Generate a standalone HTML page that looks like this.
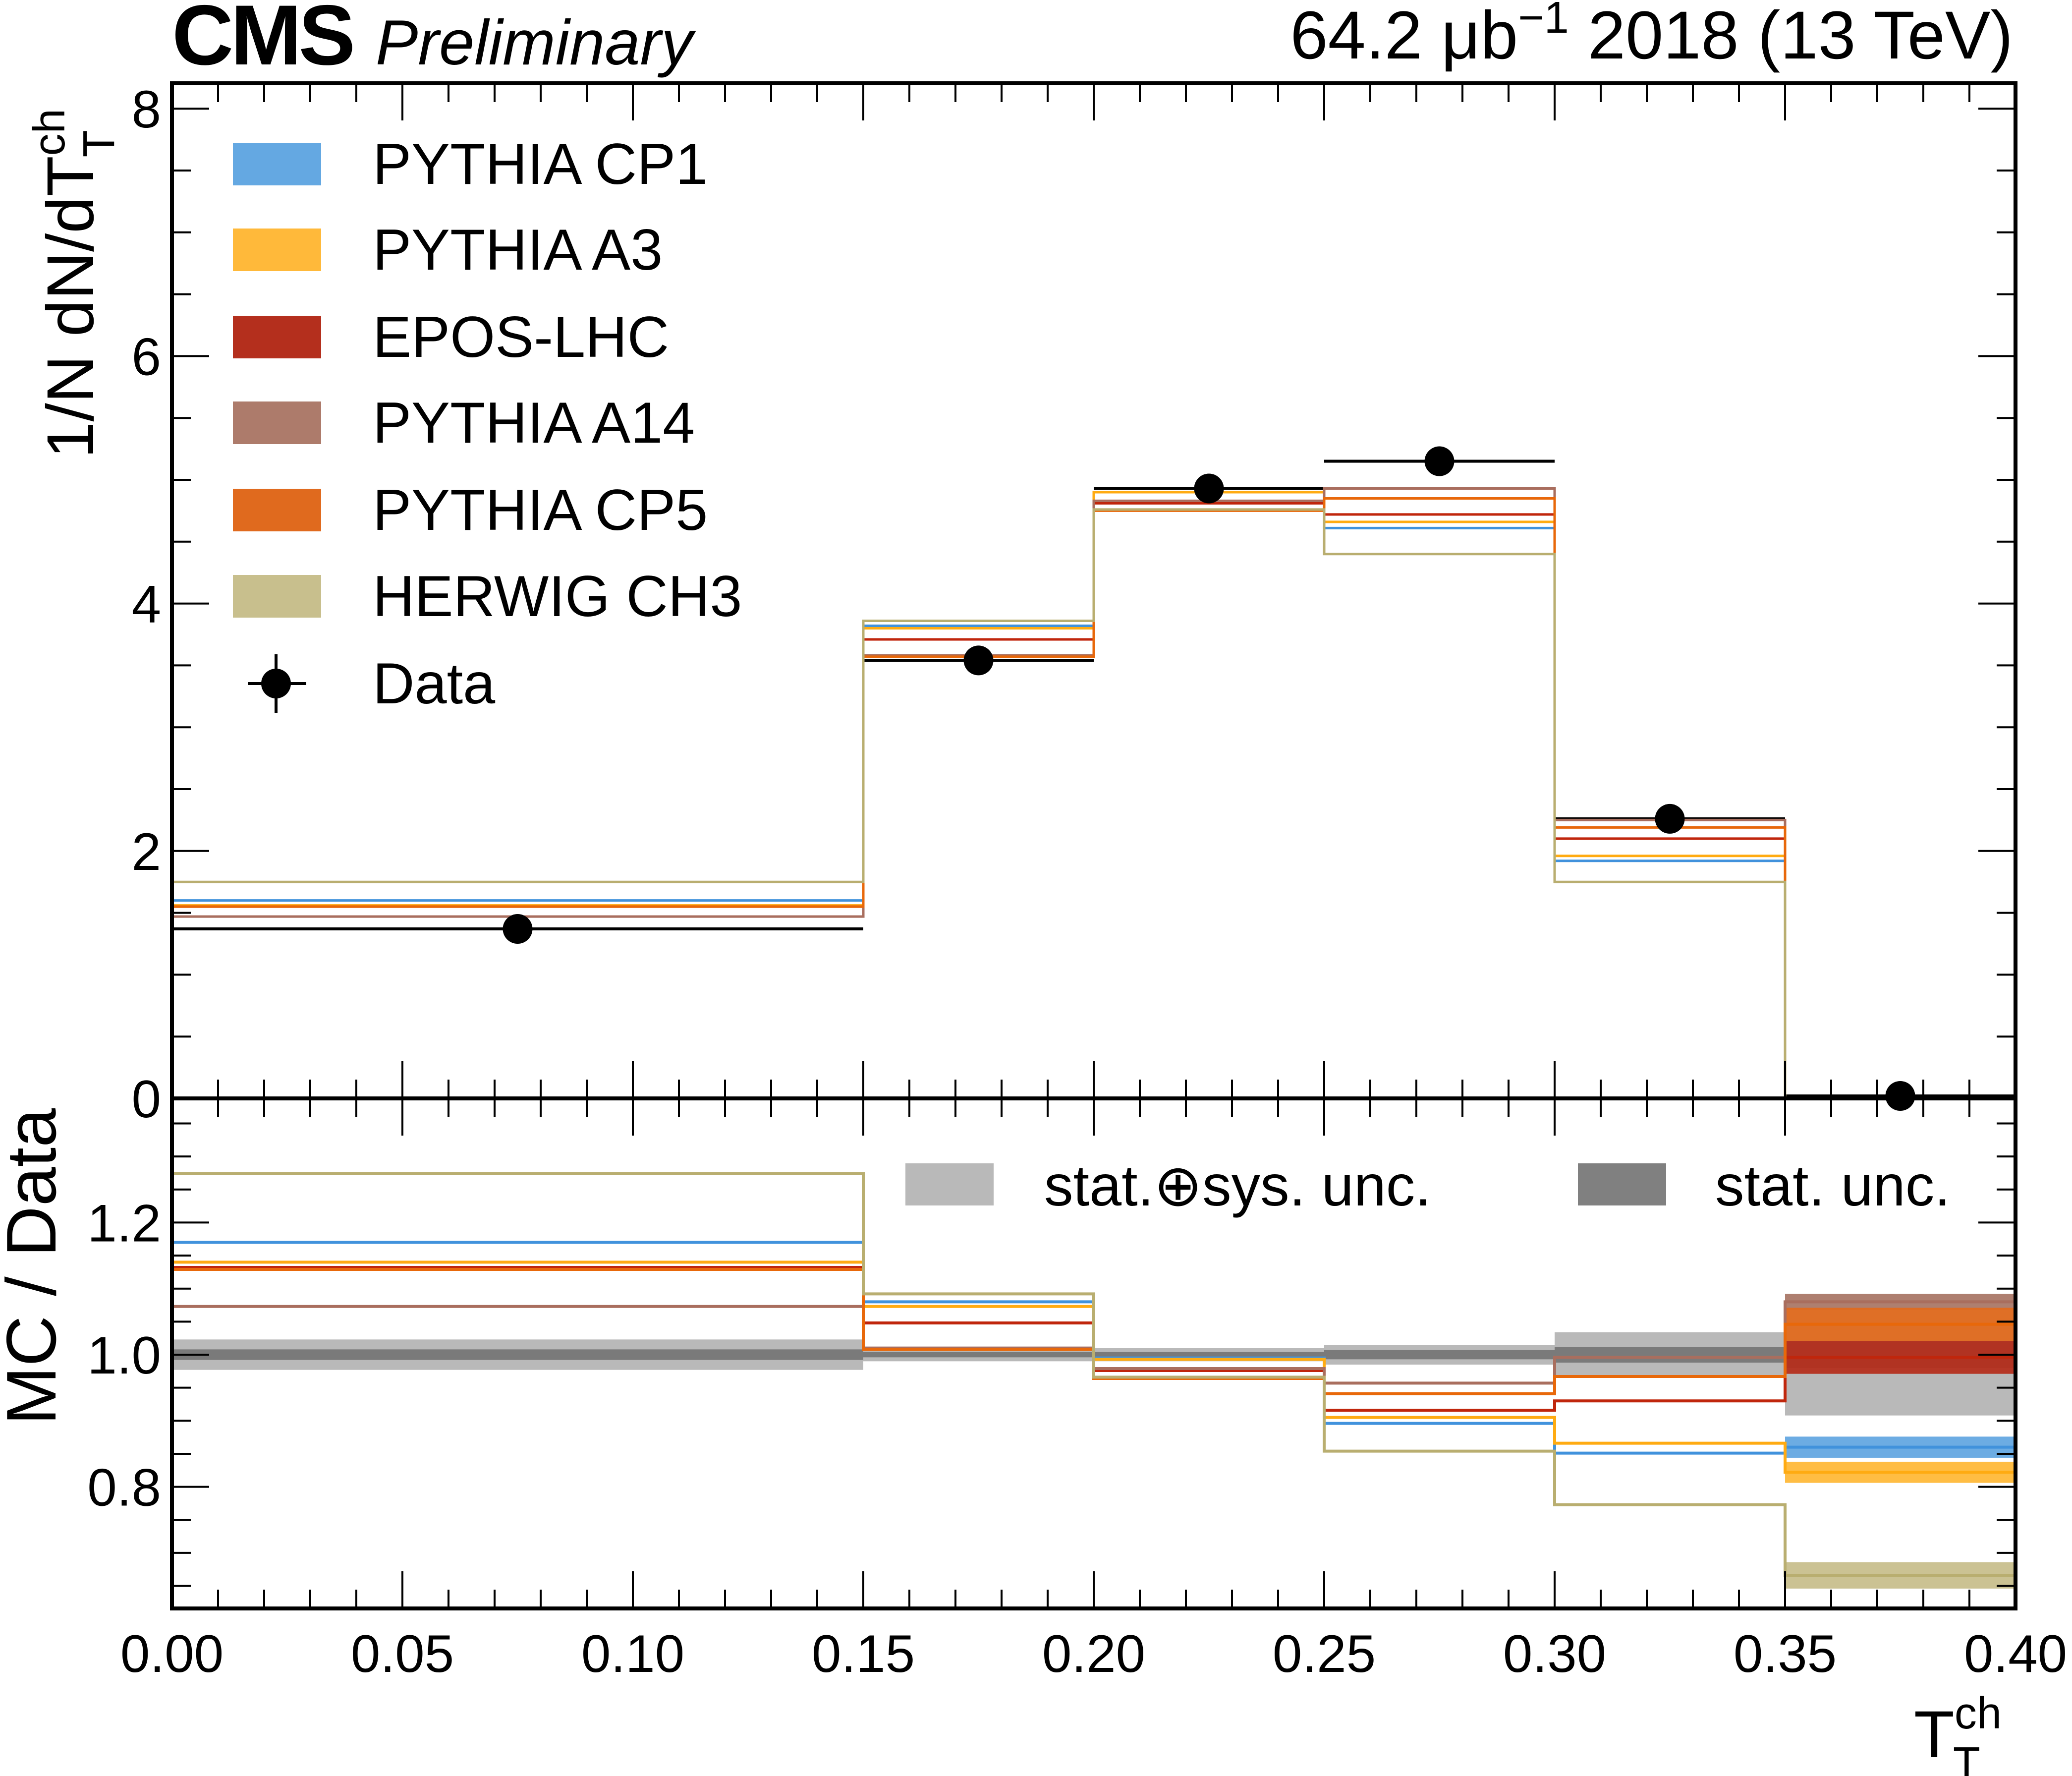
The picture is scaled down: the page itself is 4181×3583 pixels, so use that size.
<!DOCTYPE html>
<html><head><meta charset="utf-8"><style>
html,body{margin:0;padding:0;background:#fff}
svg{display:block}
text{font-family:"Liberation Sans",sans-serif;fill:#000}
</style></head><body>
<svg id="c" width="4181" height="3583" viewBox="0 0 4181 3583" xmlns="http://www.w3.org/2000/svg">
<g id="bands"></g>
<g id="lines"></g>
<g id="axes"></g>
<g id="labels">
<text x="347" y="130" font-size="172" font-weight="bold" letter-spacing="-6">CMS</text>
<text x="758" y="130" font-size="128" font-style="italic">Preliminary</text>
<text x="4062" y="118" font-size="137" text-anchor="end">64.2 μb<tspan font-size="90" dy="-52">−1</tspan><tspan dy="52"> 2018 (13 TeV)</tspan></text>
<text transform="translate(188,925) rotate(-90)" font-size="134">1/N dN/dT<tspan font-size="90" dy="-58">ch</tspan><tspan font-size="90" dx="-98" dy="100">T</tspan></text>
<text transform="translate(112,2875) rotate(-90)" font-size="142">MC / Data</text>
<text x="3862" y="3545" font-size="134">T<tspan font-size="90" dy="-58">ch</tspan><tspan font-size="90" dx="-98" dy="100">T</tspan></text>
</g>
<g id="legend"></g>
</svg>
<script>
// data
const binEdges=[0,0.15,0.2,0.25,0.3,0.35,0.4];
const dataVals=[1.37,3.54,4.93,5.15,2.26,0.02];
const seriesNames=["PYTHIA CP1","PYTHIA A3","EPOS-LHC","PYTHIA A14","PYTHIA CP5","HERWIG CH3"];
const cp1=[1.60,3.82,4.90,4.61,1.92,0];
const a3=[1.56,3.80,4.90,4.66,1.96,0];
const epos=[1.55,3.71,4.81,4.72,2.10,0];
const a14=[1.47,3.58,4.83,4.93,2.25,0];
const cp5=[1.55,3.57,4.75,4.85,2.19,0];
const ch3=[1.75,3.86,4.76,4.40,1.75,0];
const rCp1=[1.170,1.080,0.995,0.896,0.851,0.86];
const rA3=[1.140,1.073,0.993,0.905,0.866,0.822];
const rEpos=[1.132,1.048,0.976,0.916,0.930,0.996];
const rA14=[1.073,1.010,0.979,0.957,0.996,1.08];
const rCp5=[1.129,1.008,0.964,0.941,0.967,1.046];
const rCh3=[1.274,1.092,0.966,0.854,0.773,0.666];
const lastErr=[0.016,0.016,0.025,0.012,0.025,0.02];
const sysUnc=[0.023,0.01,0.01,0.015,0.034,0.092];
const statUnc=[0.008,0.004,0.004,0.007,0.012,0.02];
const xTicks=["0.00","0.05","0.10","0.15","0.20","0.25","0.30","0.35","0.40"];
const yTicksUp=[0,2,4,6,8];
const yTicksLo=["0.8","1.0","1.2"];

const NS="http://www.w3.org/2000/svg";
const L=347,R=4067,T=168,M=2216,B=3245;
const X=v=>L+(v-0)/0.4*(R-L);
const YU=v=>2216-v*249.6;
const YL=v=>2733-(v-1)*1333;
function mk(p,tag,at){const e=document.createElementNS(NS,tag);for(const k in at)e.setAttribute(k,at[k]);p.appendChild(e);return e;}
const gB=document.getElementById('bands'),gL=document.getElementById('lines'),gA=document.getElementById('axes'),gG=document.getElementById('legend'),gT=document.getElementById('labels');
const lineCols=["#4192dc","#ffab12","#c0260c","#a96e5e","#e8680a","#b9ae70"];
const bandCols=["#64a8e2","#ffb93a","#b42f1d","#ad7b6b","#e06a1e","#c8bf8d"];
const upper=[cp1,a3,epos,a14,cp5,ch3];
const ratios=[rCp1,rA3,rEpos,rA14,rCp5,rCh3];

for(let i=0;i<6;i++){
  let r=mk(gB,'rect',{x:X(binEdges[i]),y:YL(1+sysUnc[i]),width:X(binEdges[i+1])-X(binEdges[i]),height:YL(1-sysUnc[i])-YL(1+sysUnc[i]),fill:"#b9b9b9"});
  
  
  let s=mk(gB,'rect',{x:X(binEdges[i]),y:YL(1+statUnc[i]),width:X(binEdges[i+1])-X(binEdges[i]),height:YL(1-statUnc[i])-YL(1+statUnc[i]),fill:"#7a7a7a"});
  
  
}
[3,4,2,0,1,5].forEach(k=>{
  const v=ratios[k][5],e=lastErr[k];
  let r=mk(gB,'rect',{x:X(0.35),y:YL(v+e),width:X(0.4)-X(0.35),height:YL(v-e)-YL(v+e),fill:bandCols[k],opacity:0.95});
  
  
});
function stepPath(vals,Y){
  let d="M"+X(binEdges[0])+","+Y(vals[0]);
  for(let i=0;i<vals.length;i++){
    if(i>0)d+=" L"+X(binEdges[i])+","+Y(vals[i]);
    d+=" L"+X(binEdges[i+1])+","+Y(vals[i]);
  }
  return d;
}
for(let i=0;i<6;i++){
  let l=mk(gL,'line',{x1:X(binEdges[i]),x2:X(binEdges[i+1]),y1:YU(dataVals[i]),y2:YU(dataVals[i]),stroke:"#000","stroke-width":6});
  
  
}
[0,1,2,3,4,5].forEach(k=>{
  let p=mk(gL,'path',{d:stepPath(upper[k],YU),fill:"none",stroke:lineCols[k],"stroke-width":5});
  
  
  let q=mk(gL,'path',{d:stepPath(ratios[k],YL),fill:"none",stroke:lineCols[k],"stroke-width":6});
  
  
});
for(let i=0;i<6;i++){
  let c=mk(gL,'circle',{cx:X((binEdges[i]+binEdges[i+1])/2),cy:YU(dataVals[i]),r:30,fill:"#000"});
  
  
}
[[T,M],[M,B]].forEach(([t,b],j)=>{
  let f=mk(gA,'rect',{x:L,y:t,width:R-L,height:b-t,fill:"none",stroke:"#000","stroke-width":8});
  
  
  for(let k=0;k<=40;k++){
    const x=X(k*0.01),len=(k%5==0)?75:38;
    mk(gA,'line',{x1:x,x2:x,y1:b,y2:b-len,stroke:"#000","stroke-width":4});
    mk(gA,'line',{x1:x,x2:x,y1:t,y2:t+len,stroke:"#000","stroke-width":4});
  }
});
for(let v=0;v<=8.01;v+=0.5){
  const y=YU(v),len=(Math.abs(v%2)<1e-6)?75:38;
  mk(gA,'line',{x1:L,x2:L+len,y1:y,y2:y,stroke:"#000","stroke-width":4});
  mk(gA,'line',{x1:R,x2:R-len,y1:y,y2:y,stroke:"#000","stroke-width":4});
}
for(let v=0.65;v<=1.38;v+=0.05){
  const y=YL(v),maj=Math.abs(Math.round(v*100)%20)<1;
  const len=maj?75:38;
  mk(gA,'line',{x1:L,x2:L+len,y1:y,y2:y,stroke:"#000","stroke-width":4});
  mk(gA,'line',{x1:R,x2:R-len,y1:y,y2:y,stroke:"#000","stroke-width":4});
}
yTicksUp.forEach(v=>{
  let t=mk(gT,'text',{x:325,y:YU(v)+38,"font-size":107,"text-anchor":"end"});t.textContent=v;
  
  
});
yTicksLo.forEach(v=>{
  let t=mk(gT,'text',{x:325,y:YL(parseFloat(v))+38,"font-size":107,"text-anchor":"end"});t.textContent=v;
  
  
});
xTicks.forEach(v=>{
  let t=mk(gT,'text',{x:X(parseFloat(v)),y:3373,"font-size":107,"text-anchor":"middle"});t.textContent=v;
  
  
});
const rowsY=[331,504,680,853,1029,1203];
seriesNames.forEach((n,k)=>{
  let s=mk(gG,'rect',{x:470,y:rowsY[k]-43,width:178,height:86,fill:bandCols[k]});
  
  
  let t=mk(gG,'text',{x:752,y:rowsY[k]+40,"font-size":117});t.textContent=n;
  
  
});
mk(gG,'line',{x1:500,x2:618,y1:1379,y2:1379,stroke:"#000","stroke-width":6});
mk(gG,'line',{x1:557,x2:557,y1:1320,y2:1438,stroke:"#000","stroke-width":6});
let dm=mk(gG,'circle',{cx:557,cy:1379,r:30,fill:"#000"});


let dt=mk(gG,'text',{x:752,y:1419,"font-size":117});dt.textContent="Data";


let s1=mk(gG,'rect',{x:1827,y:2347,width:178,height:85,fill:"#b9b9b9"});


let t1=mk(gG,'text',{x:2107,y:2432,"font-size":117});t1.textContent="stat.⊕sys. unc.";


let s2=mk(gG,'rect',{x:3184,y:2347,width:178,height:85,fill:"#808080"});


let t2=mk(gG,'text',{x:3461,y:2432,"font-size":117});t2.textContent="stat. unc.";


</script>
</body></html>
